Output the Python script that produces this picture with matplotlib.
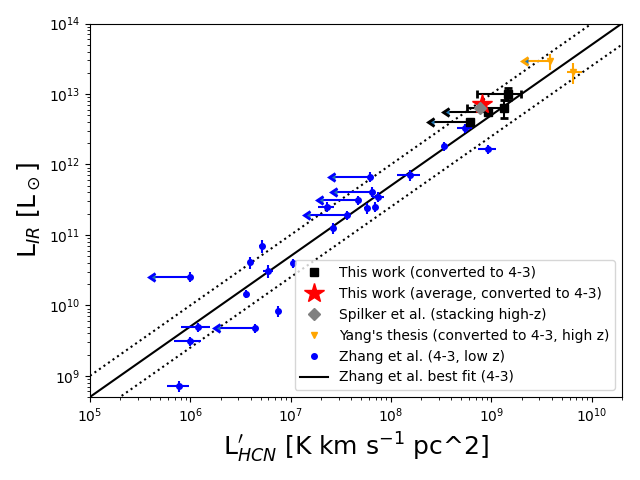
import numpy as np
import matplotlib
matplotlib.use("Agg")
import matplotlib.pyplot as plt
from matplotlib.lines import Line2D

# ---- This work (converted to 4-3) ----
tw_x = [1.46e9, 1.34e9, 9.2e8, 6.1e8]
tw_y = [9.9e12, 6.4e12, 5.6e12, 3.98e12]
tw_xerr_lo = [7.5e8, 7.7e8, 5.4e8, 3.4e8]
tw_xerr_hi = [5.3e8, 0.8e8, 0.0, 0.0]
tw_yerr_lo = [1.8e12, 1.9e12, 0.4e12, 0.3e12]
tw_yerr_hi = [2.3e12, 1.8e12, 0.4e12, 0.3e12]
tw_xuplim = [False, False, True, True]

# ---- This work (average) ----
avg_x = [8.0e8]
avg_y = [7.2e12]

# ---- Spilker et al. (stacking) ----
sp_x = [7.7e8]
sp_y = [6.4e12]

# ---- Yang's thesis ----
yang_x = [3.82e9, 6.47e9]
yang_y = [2.94e13, 2.05e13]
yang_xerr_lo = [1.5e9, 0.83e9]
yang_xerr_hi = [0.0, 1.47e9]
yang_yerr_lo = [0.75e13, 0.67e13]
yang_yerr_hi = [0.75e13, 0.70e13]
yang_xuplim = [True, False]

# ---- Zhang et al. (4-3, low z) ----
zh_x = [5.43e8, 3.36e8, 9.27e8, 1.54e8, 6.15e7, 6.4e7, 7.45e7, 4.7e7,
        2.28e7, 5.7e7, 6.9e7, 3.6e7, 2.65e7, 5.13e6, 3.93e6, 9.9e5,
        5.97e6, 1.06e7, 3.58e6, 7.5e6, 1.18e6, 4.4e6, 9.9e5, 7.74e5]
zh_y = [3.26e12, 1.83e12, 1.64e12, 7.1e11, 6.7e11, 4.1e11, 3.5e11, 3.13e11,
        2.52e11, 2.39e11, 2.52e11, 1.92e11, 1.24e11, 6.98e10, 4.1e10, 2.56e10,
        3.08e10, 3.97e10, 1.44e10, 8.36e9, 4.91e9, 4.75e9, 3.07e9, 7.2e8]
zh_xerr_frac = [0.17, 0.05, 0.20, 0.26, 0.55, 0.55, 0.14, 0.55,
                0.18, 0.05, 0.05, 0.57, 0.05, 0.05, 0.05, 0.55,
                0.12, 0.05, 0.05, 0.05, 0.32, 0.55, 0.30, 0.25]
zh_yerr_frac = [0.15, 0.15, 0.15, 0.17, 0.17, 0.15, 0.15, 0.15,
                0.15, 0.17, 0.17, 0.15, 0.18, 0.20, 0.20, 0.17,
                0.20, 0.15, 0.13, 0.17, 0.15, 0.15, 0.15, 0.17]
zh_xuplim = [False, False, False, False, True, True, False, True,
             False, False, False, True, False, False, False, True,
             False, False, False, False, False, True, False, False]

# ---- Zhang et al. best fit ----
fit_slope = 1.0
fit_intercept = 3.7
fit_scatter = 0.3
xlim = (1e5, 2e10)
ylim = (5e8, 1e14)

fig, ax = plt.subplots(figsize=(6.4, 4.8), dpi=100)

xfit = np.array(xlim)
yfit = 10 ** (fit_slope * np.log10(xfit) + fit_intercept)
ax.plot(xfit, yfit, 'k-', lw=1.5)
ax.plot(xfit, yfit * 10 ** fit_scatter, 'k:', lw=1.5)
ax.plot(xfit, yfit / 10 ** fit_scatter, 'k:', lw=1.5)

# Zhang points
zx = np.array(zh_x); zy = np.array(zh_y)
ax.errorbar(zx, zy, xerr=zx * np.array(zh_xerr_frac), yerr=zy * np.array(zh_yerr_frac),
            fmt='none', ecolor='b', capthick=2, xuplims=np.array(zh_xuplim))
ax.plot(zx, zy, 'o', color='b', ms=4, ls='none')

# Yang
yx = np.array(yang_x); yy = np.array(yang_y)
ax.errorbar(yx, yy, xerr=[yang_xerr_lo, yang_xerr_hi], yerr=[yang_yerr_lo, yang_yerr_hi],
            fmt='none', ecolor='orange', capthick=2, xuplims=np.array(yang_xuplim))
ax.plot(yx, yy, 'v', color='orange', ms=4, ls='none')

# This work
tx = np.array(tw_x); ty = np.array(tw_y)
ax.errorbar(tx, ty, xerr=[tw_xerr_lo, tw_xerr_hi], yerr=[tw_yerr_lo, tw_yerr_hi],
            fmt='none', ecolor='k', capsize=3, capthick=2, xuplims=np.array(tw_xuplim))
ax.plot(tx, ty, 's', color='k', ms=6, ls='none')

ax.plot(avg_x, avg_y, '*', color='r', ms=15, ls='none')
ax.plot(sp_x, sp_y, 'D', color='gray', ms=6, ls='none')

ax.set_xscale('log')
ax.set_yscale('log')
ax.set_xlim(*xlim)
ax.set_ylim(*ylim)
ax.set_xlabel(r"L$^{\prime}_{HCN}$ [K km s$^{-1}$ pc^2]", fontsize=18)
ax.set_ylabel(r"L$_{IR}$ [L$_\odot$]", fontsize=18)

handles = [
    Line2D([], [], marker='s', color='k', ms=6, ls='none'),
    Line2D([], [], marker='*', color='r', ms=15, ls='none'),
    Line2D([], [], marker='D', color='gray', ms=6, ls='none'),
    Line2D([], [], marker='v', color='orange', ms=4, ls='none'),
    Line2D([], [], marker='o', color='b', ms=4, ls='none'),
    Line2D([], [], color='k', lw=1.5),
]
labels = ["This work (converted to 4-3)",
          "This work (average, converted to 4-3)",
          "Spilker et al. (stacking high-z)",
          "Yang's thesis (converted to 4-3, high z)",
          "Zhang et al. (4-3, low z)",
          "Zhang et al. best fit (4-3)"]
ax.legend(handles, labels, loc='lower right')

fig.subplots_adjust(left=90 / 640, right=622 / 640, top=1 - 23.5 / 480, bottom=1 - 397 / 480)
fig.savefig('out.png', dpi=100)
